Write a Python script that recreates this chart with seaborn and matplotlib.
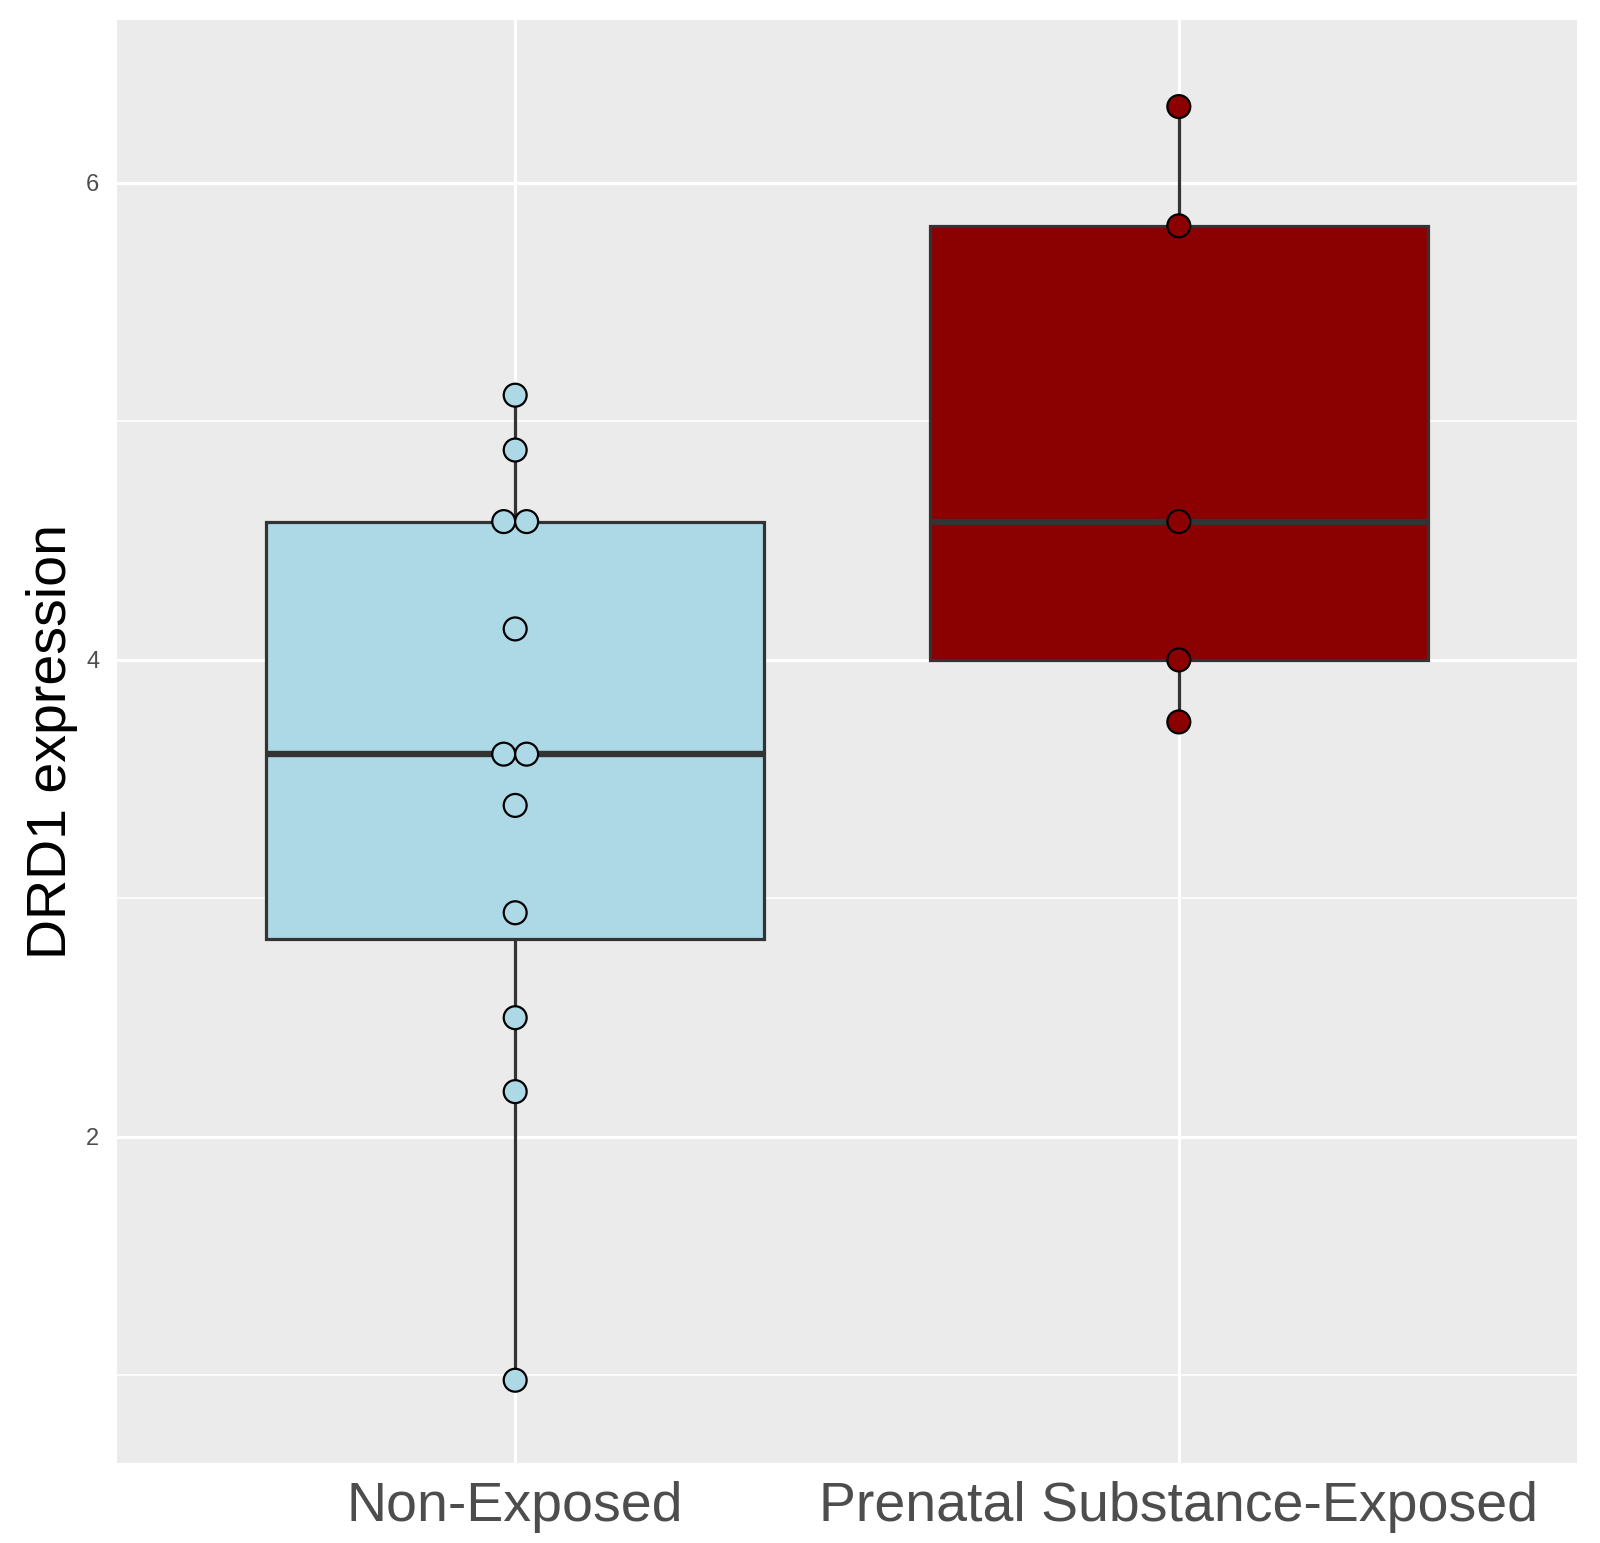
import numpy as np
import pandas as pd
import seaborn as sns
import matplotlib.pyplot as plt
from matplotlib.ticker import MultipleLocator

# values
groups = ["Non-Exposed", "Prenatal Substance-Exposed"]
non_exposed = [5.11, 4.88, 4.58, 4.58, 4.13, 3.605, 3.605, 3.39, 2.94, 2.50, 2.19, 0.98]
prenatal_exposed = [6.32, 5.82, 4.58, 4.00, 3.74]
group_colors = ["#ADD8E6", "#8B0000"]
y_label = "DRD1 expression"
y_ticks = [2, 4, 6]

df = pd.DataFrame({
    "group": [groups[0]] * len(non_exposed) + [groups[1]] * len(prenatal_exposed),
    "expression": non_exposed + prenatal_exposed,
})
palette = dict(zip(groups, group_colors))
point_size = 16.5  # marker diameter, pt

sns.set_style("darkgrid", {
    "axes.facecolor": "#EBEBEB",
    "grid.color": "white",
    "axes.edgecolor": "#EBEBEB",
})
plt.rcParams["font.family"] = ["Liberation Sans", "DejaVu Sans"]

fig, ax = plt.subplots(figsize=(16, 15.43), dpi=100)
fig.subplots_adjust(left=117 / 1600, right=1577 / 1600,
                    top=1 - 20 / 1543, bottom=80 / 1543)

sns.boxplot(data=df, x="group", y="expression",
            hue="group", palette=palette, order=groups, hue_order=groups,
            width=0.75, whis=np.inf, showcaps=False, showfliers=False,
            linecolor="#333333", linewidth=2.3, legend=False, ax=ax,
            medianprops={"linewidth": 4.6, "color": "#333333"},
            saturation=1)
ax.set_xlim(-0.6, 1.6)

# centred dodge for tied values (like ggbeeswarm / geom_dotplot)
step = point_size * fig.dpi / 72 * (2.2 / ax.get_window_extent().width)
df["pos"] = df["group"].map({g: i for i, g in enumerate(groups)}).astype(float)
for (g, v), idx in df.groupby(["group", "expression"]).groups.items():
    n = len(idx)
    df.loc[idx, "pos"] += (np.arange(n) - (n - 1) / 2) * step

sns.scatterplot(data=df, x="pos", y="expression", hue="group",
                palette=palette, hue_order=groups, s=point_size ** 2,
                edgecolor="black", linewidth=1.6, legend=False, ax=ax,
                zorder=5)

ax.set_xlim(-0.6, 1.6)
ax.set_ylim(0.633, 6.683)
ax.set_xticks(range(len(groups)))
ax.set_xticklabels(groups)
ax.set_yticks(y_ticks)
ax.yaxis.set_minor_locator(MultipleLocator(1))
ax.grid(True, which="major", color="white", linewidth=2.3)
ax.grid(True, which="minor", axis="y", color="white", linewidth=1.2)
ax.set_axisbelow(True)
for sp in ax.spines.values():
    sp.set_visible(False)

ax.tick_params(axis="both", which="major", length=6.8, width=2.0,
               color="#333333", labelcolor="#4D4D4D", pad=6)
ax.tick_params(axis="y", which="major", labelsize=17)
ax.tick_params(axis="x", which="major", labelsize=40)
ax.tick_params(which="minor", length=0)

ax.set_xlabel("")
ax.set_ylabel(y_label, fontsize=40, color="black", labelpad=6)

fig.savefig("out.png", dpi=100, facecolor="white")
